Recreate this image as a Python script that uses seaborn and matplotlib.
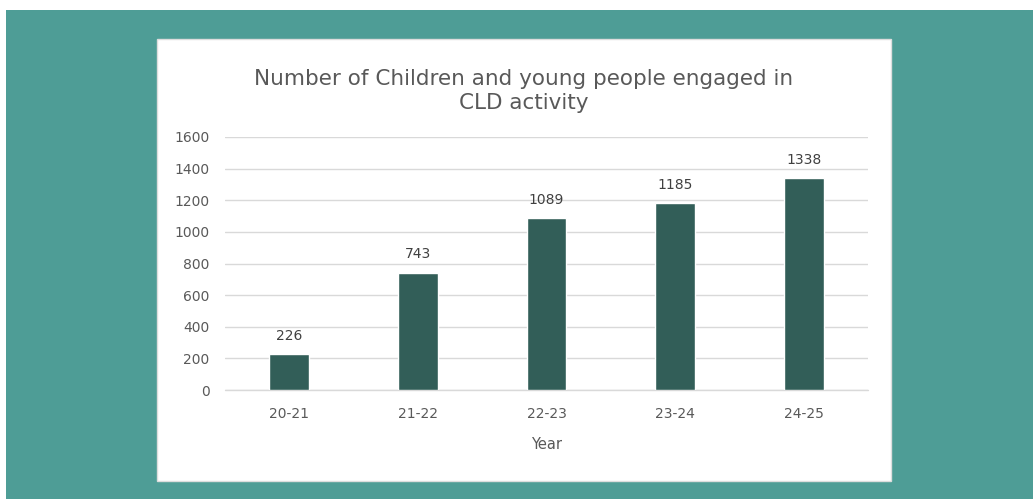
import matplotlib
matplotlib.use("Agg")
import matplotlib.pyplot as plt
import seaborn as sns
import pandas as pd
from matplotlib.patches import Rectangle

years = ["20-21", "21-22", "22-23", "23-24", "24-25"]
counts = [226, 743, 1089, 1185, 1338]
yticks = [0, 200, 400, 600, 800, 1000, 1200, 1400, 1600]

sns.set_theme(style="white")
plt.rcParams['font.family'] = ['DejaVu Sans']

W, H = 1033, 499
fig = plt.figure(figsize=(W/100, H/100), dpi=100)
fig.patch.set_facecolor("white")

def fx(x): return x / W
def fy(y): return 1 - y / H

# teal background (white strips top & left)
fig.patches.append(Rectangle((fx(6), 0), 1 - fx(6), fy(10), transform=fig.transFigure,
                             facecolor="#4E9D96", edgecolor="none", zorder=-2))
# white panel
fig.patches.append(Rectangle((fx(157), fy(481)), fx(891 - 157), (481 - 39) / H,
                             transform=fig.transFigure, facecolor="white",
                             edgecolor="#DDDDDD", linewidth=1, zorder=-1))

ax = fig.add_axes([fx(225), fy(390), fx(868 - 225), (390 - 137) / H])
ax.set_facecolor("none")
ax.set_zorder(2)
df = pd.DataFrame({"Year": years, "Count": counts})
sns.barplot(data=df, x="Year", y="Count", color="#325E58", saturation=1, width=0.31, ax=ax, zorder=3)

ax.set_ylim(0, 1600)
ax.set_xlim(-0.5, 4.5)
ax.set_yticks(yticks)
ax.yaxis.grid(True, color="#D9D9D9", linewidth=1)
ax.axhline(0, color="#D9D9D9", linewidth=1, zorder=1, clip_on=False)
ax.set_axisbelow(True)
for s in ax.spines.values():
    s.set_visible(False)
ax.tick_params(axis="both", length=0, colors="#595959", labelsize=10)
ax.tick_params(axis="y", pad=11)
ax.tick_params(axis="x", pad=12)
ax.set_ylabel("")
ax.set_xlabel("Year", color="#595959", fontsize=10.5, labelpad=12)

for i, v in enumerate(counts):
    ax.annotate(str(v), (i, v), xytext=(0, 8), textcoords="offset points",
                ha="center", va="bottom", color="#404040", fontsize=10)

fig.text(fx(524), fy(91), "Number of Children and young people engaged in\nCLD activity",
         ha="center", va="center", fontsize=15.5, color="#595959", linespacing=1.25)

fig.savefig("out.png", dpi=100)
